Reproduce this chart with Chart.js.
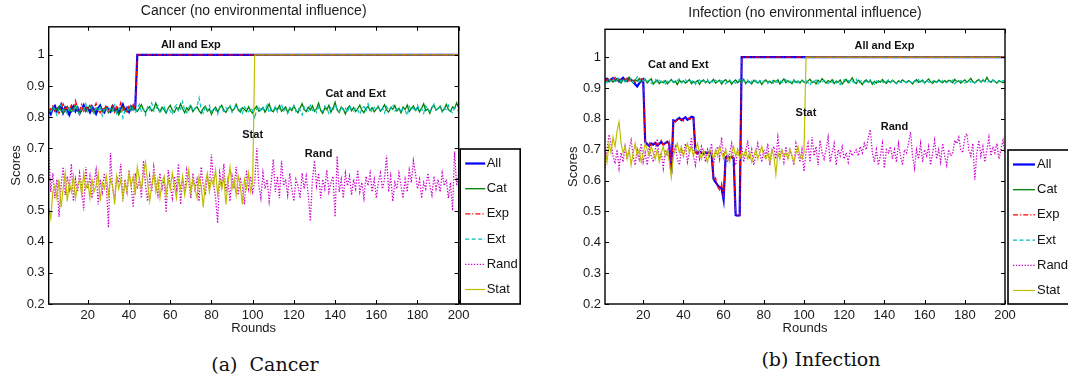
<!DOCTYPE html>
<html>
<head>
<meta charset="utf-8">
<script src="https://cdn.jsdelivr.net/npm/chart.js@4.4.1/dist/chart.umd.min.js"></script>
<style>
  body { margin: 0; background: #fff; width: 1068px; height: 379px; overflow: hidden; position: relative; }
  canvas { position: absolute; top: 0; }
  #cancer { left: 0; }
  #infection { left: 530px; }
  .cap { position: absolute; font-family: "DejaVu Serif", "Liberation Serif", serif; font-size: 19px; line-height: 22px; color: #111; transform: translateX(-50%); white-space: nowrap; }
</style>
</head>
<body>
<canvas id="cancer" width="530" height="340"></canvas>
<canvas id="infection" width="538" height="340"></canvas>
<div class="cap" style="left:265px;top:353px">(a)&nbsp; Cancer</div>
<div class="cap" style="left:821px;top:348px">(b) Infection</div>
<script>
// ---- data ----
const xTicks = [20, 40, 60, 80, 100, 120, 140, 160, 180, 200];
const yTicks = [0.2, 0.3, 0.4, 0.5, 0.6, 0.7, 0.8, 0.9, 1];
const lastRound = 200;
const topScore = 1;

// Cancer
const cancerAll = [0.822,0.810,0.829,0.836,0.818,0.826,0.840,0.814,0.831,0.823,
  0.808,0.827,0.835,0.819,0.830,0.812,0.825,0.838,0.821,0.829,
  0.816,0.834,0.824,0.811,0.828,0.837,0.820,0.815,0.832,0.826,
  0.818,0.835,0.823,0.829,0.813,0.827,0.840,0.821,0.830,0.817,
  0.834,0.825,0.829];
const cancerAllJump = 44;
const cancerExp = [0.815,0.828,0.836,0.820,0.831,0.812,0.826,0.842,0.819,0.834,
  0.825,0.838,0.817,0.852,0.829,0.821,0.840,0.815,0.833,0.826,
  0.837,0.818,0.829,0.844,0.822,0.814,0.831,0.826,0.839,0.820,
  0.828,0.841,0.816,0.833,0.825,0.846,0.822,0.830,0.818,0.835,
  0.827,0.840,0.823];
const cancerExpJump = 44;
const cancerCat = [0.815,0.822,0.830,0.818,0.826,0.834,0.821,0.812,0.828,0.835,
  0.824,0.816,0.829,0.838,0.820,0.811,0.826,0.832,0.819,0.827,
  0.836,0.823,0.815,0.828,0.821,0.833,0.818,0.825,0.831,0.814,
  0.822,0.829,0.817,0.826,0.808,0.820,0.833,0.824,0.816,0.830,
  0.822,0.836,0.825,0.818,0.829,0.840,0.823,0.815,0.827,0.834,
  0.820,0.826,0.845,0.828,0.817,0.832,0.824,0.813,0.829,0.838,
  0.822,0.816,0.831,0.825,0.842,0.827,0.814,0.830,0.822,0.836,
  0.818,0.827,0.833,0.821,0.812,0.828,0.835,0.819,0.826,0.809,
  0.824,0.832,0.817,0.829,0.838,0.822,0.815,0.828,0.834,0.820,
  0.826,0.841,0.823,0.816,0.830,0.825,0.818,0.833,0.820,0.812,
  0.827,0.835,0.819,0.824,0.831,0.816,0.829,0.842,0.822,0.817,
  0.830,0.824,0.837,0.819,0.826,0.833,0.815,0.828,0.821,0.836,
  0.822,0.814,0.829,0.843,0.825,0.818,0.832,0.823,0.836,0.819,
  0.827,0.845,0.821,0.812,0.830,0.824,0.838,0.816,0.829,0.848,
  0.823,0.815,0.832,0.826,0.810,0.828,0.836,0.820,0.831,0.818,
  0.827,0.838,0.822,0.814,0.829,0.835,0.821,0.830,0.817,0.826,
  0.833,0.819,0.828,0.840,0.823,0.816,0.831,0.825,0.837,0.820,
  0.828,0.814,0.832,0.824,0.839,0.818,0.827,0.836,0.822,0.830,
  0.817,0.829,0.843,0.821,0.826,0.812,0.831,0.838,0.823,0.828,
  0.835,0.819,0.826,0.841,0.824,0.818,0.833,0.827,0.846,0.829];
const cancerExt = [0.828,0.812,0.835,0.824,0.806,0.831,0.840,0.819,0.826,0.811,
  0.833,0.822,0.815,0.838,0.827,0.809,0.830,0.821,0.843,0.817,
  0.826,0.834,0.812,0.829,0.820,0.837,0.804,0.823,0.832,0.815,
  0.828,0.819,0.839,0.811,0.826,0.833,0.798,0.822,0.830,0.818,
  0.836,0.824,0.813,0.829,0.841,0.817,0.827,0.806,0.832,0.823,
  0.845,0.819,0.828,0.837,0.812,0.826,0.834,0.815,0.829,0.821,
  0.808,0.831,0.839,0.817,0.826,0.850,0.822,0.814,0.830,0.841,
  0.819,0.827,0.835,0.862,0.824,0.813,0.832,0.820,0.838,0.816,
  0.829,0.823,0.809,0.834,0.826,0.818,0.831,0.822,0.837,0.815,
  0.828,0.840,0.819,0.826,0.812,0.833,0.824,0.817,0.830,0.821,
  0.795,0.827,0.836,0.818,0.829,0.823,0.839,0.814,0.827,0.821,
  0.834,0.816,0.828,0.842,0.820,0.826,0.811,0.831,0.824,0.837,
  0.818,0.829,0.823,0.807,0.833,0.826,0.819,0.838,0.821,0.829,
  0.815,0.832,0.824,0.818,0.836,0.827,0.812,0.830,0.822,0.840,
  0.826,0.817,0.833,0.823,0.829,0.814,0.837,0.825,0.819,0.831,
  0.822,0.809,0.828,0.834,0.820,0.843,0.826,0.816,0.831,0.824,
  0.838,0.818,0.829,0.813,0.834,0.822,0.827,0.841,0.819,0.826,
  0.832,0.815,0.828,0.821,0.806,0.835,0.824,0.830,0.817,0.839,
  0.823,0.828,0.812,0.836,0.825,0.819,0.831,0.842,0.820,0.827,
  0.833,0.816,0.829,0.824,0.838,0.821,0.814,0.830,0.826,0.818];
const cancerRand = [0.690,0.560,0.620,0.540,0.600,0.480,0.580,0.640,0.550,0.610,
  0.570,0.650,0.530,0.600,0.560,0.620,0.580,0.500,0.640,0.570,
  0.610,0.540,0.590,0.630,0.520,0.600,0.560,0.620,0.580,0.445,
  0.685,0.570,0.540,0.610,0.590,0.650,0.530,0.600,0.560,0.630,
  0.580,0.510,0.620,0.570,0.600,0.540,0.660,0.580,0.530,0.610,
  0.560,0.640,0.590,0.550,0.620,0.570,0.600,0.494,0.630,0.580,
  0.540,0.610,0.570,0.650,0.520,0.600,0.560,0.630,0.590,0.540,
  0.620,0.570,0.600,0.530,0.640,0.580,0.550,0.610,0.570,0.680,
  0.590,0.540,0.460,0.620,0.580,0.650,0.560,0.600,0.530,0.610,
  0.570,0.640,0.550,0.600,0.580,0.520,0.630,0.570,0.610,0.560,
  0.590,0.700,0.580,0.540,0.620,0.570,0.600,0.530,0.590,0.665,
  0.560,0.610,0.540,0.660,0.580,0.600,0.550,0.620,0.570,0.530,
  0.600,0.580,0.540,0.620,0.570,0.610,0.550,0.466,0.600,0.660,
  0.580,0.620,0.540,0.600,0.570,0.630,0.560,0.590,0.610,0.480,
  0.675,0.560,0.600,0.540,0.620,0.580,0.610,0.550,0.600,0.570,
  0.630,0.560,0.590,0.540,0.610,0.580,0.620,0.560,0.600,0.540,
  0.590,0.620,0.570,0.600,0.677,0.560,0.610,0.530,0.590,0.570,
  0.620,0.580,0.540,0.600,0.560,0.630,0.590,0.660,0.620,0.570,
  0.600,0.540,0.590,0.570,0.620,0.580,0.550,0.610,0.570,0.600,
  0.560,0.620,0.580,0.600,0.540,0.590,0.500,0.690,0.580,0.620];
const cancerStat = [0.510,0.475,0.560,0.580,0.540,0.600,0.510,0.570,0.620,0.530,
  0.590,0.560,0.610,0.540,0.580,0.600,0.550,0.620,0.570,0.590,
  0.540,0.600,0.560,0.580,0.620,0.530,0.590,0.570,0.610,0.550,
  0.600,0.580,0.520,0.610,0.570,0.600,0.540,0.590,0.560,0.620,
  0.580,0.610,0.550,0.640,0.600,0.570,0.620,0.655,0.590,0.530,
  0.580,0.620,0.560,0.600,0.540,0.590,0.610,0.550,0.600,0.570,
  0.620,0.580,0.540,0.600,0.570,0.610,0.550,0.590,0.630,0.560,
  0.600,0.570,0.540,0.610,0.580,0.510,0.590,0.620,0.560,0.600,
  0.580,0.630,0.550,0.600,0.570,0.610,0.520,0.590,0.640,0.570,
  0.600,0.550,0.610,0.580,0.520,0.600,0.570,0.620,0.560,0.590];
const cancerStatJump = 101;

// Infection
const infectionAll = [0.925,0.930,0.922,0.928,0.932,0.924,0.929,0.921,0.927,0.933,
  0.926,0.923,0.930,0.925,0.920,0.912,0.905,0.915,0.924,0.928,
  0.725,0.718,0.712,0.720,0.716,0.722,0.714,0.719,0.725,0.717,
  0.721,0.726,0.718,0.622,0.795,0.792,0.798,0.803,0.796,0.800,
  0.805,0.797,0.801,0.807,0.805,0.692,0.688,0.694,0.690,0.686,
  0.691,0.689,0.693,0.688,0.605,0.595,0.585,0.578,0.575,0.538,
  0.675,0.679,0.673,0.677,0.672,0.488,0.486,0.487];
const infectionAllJump = 69;
const infectionExp = [0.920,0.928,0.931,0.923,0.926,0.934,0.921,0.929,0.924,0.930,
  0.927,0.932,0.919,0.928,0.925,0.918,0.922,0.926,0.930,0.924,
  0.728,0.715,0.722,0.713,0.719,0.724,0.716,0.721,0.730,0.714,
  0.720,0.727,0.716,0.625,0.792,0.790,0.801,0.795,0.799,0.793,
  0.802,0.798,0.804,0.796,0.803,0.695,0.686,0.692,0.688,0.694,
  0.689,0.691,0.687,0.690,0.600,0.608,0.580,0.570,0.590,0.545,
  0.670,0.676,0.671,0.678,0.674,0.490,0.488,0.489];
const infectionExpJump = 69;
const infectionCat = [0.918,0.924,0.921,0.927,0.919,0.925,0.930,0.922,0.916,0.926,
  0.929,0.921,0.935,0.924,0.918,0.927,0.922,0.931,0.919,0.925,
  0.928,0.916,0.923,0.930,0.912,0.920,0.926,0.914,0.921,0.917,
  0.924,0.913,0.920,0.927,0.918,0.922,0.911,0.925,0.919,0.923,
  0.916,0.921,0.927,0.914,0.920,0.918,0.924,0.912,0.922,0.926,
  0.917,0.923,0.915,0.921,0.928,0.916,0.920,0.925,0.913,0.922,
  0.927,0.918,0.924,0.912,0.921,0.926,0.917,0.923,0.919,0.928,
  0.914,0.922,0.919,0.913,0.925,0.920,0.916,0.923,0.911,0.921,
  0.926,0.918,0.922,0.915,0.924,0.919,0.927,0.913,0.921,0.929,
  0.917,0.923,0.920,0.914,0.926,0.918,0.922,0.916,0.925,0.920,
  0.915,0.923,0.928,0.917,0.921,0.913,0.925,0.919,0.930,0.922,
  0.916,0.924,0.919,0.927,0.914,0.922,0.918,0.926,0.912,0.921,
  0.928,0.917,0.923,0.933,0.919,0.914,0.925,0.920,0.911,0.922,
  0.926,0.918,0.924,0.912,0.921,0.916,0.923,0.919,0.927,0.920,
  0.915,0.922,0.918,0.925,0.920,0.914,0.923,0.919,0.926,0.921,
  0.917,0.924,0.919,0.913,0.922,0.927,0.918,0.921,0.925,0.916,
  0.923,0.929,0.920,0.915,0.922,0.918,0.926,0.921,0.917,0.924,
  0.919,0.925,0.922,0.917,0.928,0.920,0.923,0.916,0.921,0.926,
  0.918,0.924,0.931,0.920,0.916,0.923,0.927,0.919,0.925,0.921,
  0.934,0.922,0.918,0.926,0.921,0.916,0.924,0.920,0.917,0.922];
const infectionExt = [0.924,0.917,0.928,0.921,0.930,0.918,0.925,0.933,0.920,0.927,
  0.919,0.926,0.922,0.931,0.917,0.924,0.936,0.920,0.928,0.923,
  0.930,0.921,0.926,0.915,0.923,0.928,0.918,0.925,0.920,0.927,
  0.913,0.922,0.919,0.926,0.921,0.917,0.924,0.929,0.916,0.922,
  0.927,0.918,0.923,0.920,0.925,0.912,0.921,0.926,0.917,0.923,
  0.920,0.928,0.914,0.922,0.918,0.925,0.921,0.916,0.924,0.919,
  0.913,0.921,0.926,0.918,0.923,0.915,0.922,0.928,0.917,0.924,
  0.920,0.926,0.911,0.922,0.918,0.925,0.914,0.921,0.927,0.919,
  0.923,0.915,0.920,0.926,0.913,0.922,0.918,0.924,0.917,0.921,
  0.927,0.914,0.922,0.919,0.925,0.912,0.921,0.916,0.923,0.918,
  0.924,0.917,0.909,0.922,0.919,0.926,0.913,0.921,0.918,0.925,
  0.920,0.914,0.923,0.918,0.926,0.916,0.922,0.911,0.921,0.927,
  0.919,0.924,0.915,0.922,0.917,0.928,0.913,0.921,0.925,0.918,
  0.922,0.916,0.927,0.919,0.912,0.923,0.918,0.925,0.920,0.914,
  0.921,0.926,0.917,0.923,0.919,0.913,0.924,0.920,0.916,0.922,
  0.918,0.925,0.920,0.914,0.923,0.919,0.927,0.915,0.922,0.917,
  0.924,0.919,0.913,0.921,0.926,0.918,0.922,0.916,0.925,0.920,
  0.917,0.923,0.919,0.926,0.914,0.921,0.918,0.924,0.920,0.915,
  0.922,0.927,0.918,0.923,0.916,0.921,0.925,0.919,0.928,0.920,
  0.916,0.923,0.919,0.925,0.920,0.914,0.922,0.918,0.924,0.920];
const infectionRand = [0.640,0.700,0.749,0.720,0.680,0.655,0.700,0.640,0.690,0.660,
  0.710,0.670,0.700,0.730,0.680,0.650,0.700,0.670,0.720,0.660,
  0.690,0.650,0.710,0.680,0.660,0.700,0.735,0.670,0.690,0.640,
  0.700,0.680,0.720,0.660,0.690,0.710,0.670,0.650,0.700,0.680,
  0.720,0.660,0.690,0.740,0.680,0.650,0.700,0.670,0.710,0.690,
  0.660,0.700,0.680,0.720,0.650,0.690,0.710,0.670,0.740,0.680,
  0.700,0.660,0.690,0.720,0.670,0.650,0.700,0.680,0.710,0.660,
  0.690,0.730,0.670,0.700,0.650,0.680,0.720,0.690,0.660,0.700,
  0.680,0.720,0.650,0.690,0.710,0.670,0.740,0.680,0.700,0.660,
  0.710,0.670,0.700,0.680,0.650,0.720,0.690,0.660,0.700,0.630,
  0.690,0.720,0.660,0.740,0.680,0.710,0.650,0.730,0.690,0.670,
  0.700,0.740,0.660,0.690,0.720,0.650,0.700,0.680,0.710,0.670,
  0.690,0.660,0.700,0.680,0.690,0.700,0.680,0.710,0.690,0.720,
  0.700,0.740,0.765,0.690,0.660,0.700,0.650,0.680,0.720,0.640,
  0.700,0.690,0.710,0.670,0.700,0.660,0.720,0.680,0.650,0.700,
  0.690,0.720,0.757,0.680,0.640,0.700,0.670,0.720,0.660,0.700,
  0.680,0.710,0.650,0.690,0.730,0.670,0.700,0.660,0.720,0.680,
  0.650,0.700,0.680,0.690,0.730,0.720,0.740,0.700,0.690,0.740,
  0.752,0.700,0.680,0.720,0.603,0.690,0.730,0.680,0.710,0.660,
  0.700,0.740,0.680,0.710,0.690,0.720,0.670,0.700,0.730,0.690];
const infectionStat = [0.700,0.660,0.720,0.690,0.740,0.710,0.760,0.790,0.720,0.690,
  0.710,0.670,0.700,0.650,0.690,0.720,0.680,0.700,0.660,0.690,
  0.720,0.700,0.680,0.710,0.690,0.670,0.700,0.660,0.690,0.710,
  0.680,0.700,0.660,0.610,0.680,0.700,0.720,0.690,0.710,0.680,
  0.700,0.720,0.690,0.710,0.680,0.700,0.720,0.690,0.670,0.700,
  0.680,0.660,0.700,0.690,0.670,0.700,0.680,0.710,0.690,0.670,
  0.700,0.680,0.660,0.690,0.710,0.680,0.700,0.670,0.690,0.680,
  0.700,0.670,0.690,0.660,0.680,0.700,0.670,0.690,0.710,0.680,
  0.670,0.690,0.660,0.700,0.680,0.620,0.690,0.670,0.700,0.680,
  0.690,0.670,0.700,0.680,0.660,0.690,0.710,0.680,0.670,0.690];
const infectionStatJump = 101;

// text labels inside the plots: [text, round, score]
const cancerNotes = [['All and Exp', 70, 1.033], ['Cat and Ext', 150, 0.875], ['Stat', 100, 0.742], ['Rand', 132, 0.683]];
const infectionNotes = [['Cat and Ext', 37.5, 0.975], ['All and Exp', 140, 1.037], ['Stat', 101, 0.819], ['Rand', 145, 0.775]];

// ---- helpers ----
const FONT = '"Liberation Sans", Arial, Helvetica, sans-serif';
Chart.defaults.font.family = FONT;
Chart.defaults.color = '#1a1a1a';

function pts(values, jump) {
  const out = values.map((y, i) => ({ x: i + 1, y }));
  if (jump) out.push({ x: jump, y: topScore }, { x: lastRound, y: topScore });
  return out;
}

const styles = {
  All:  { borderColor: '#0000ff', borderWidth: 2.2, borderDash: [] },
  Cat:  { borderColor: '#008000', borderWidth: 1.3, borderDash: [] },
  Exp:  { borderColor: '#ff0000', borderWidth: 1.3, borderDash: [5, 2, 1.2, 2] },
  Ext:  { borderColor: '#00bfbf', borderWidth: 1.2, borderDash: [4, 2.5] },
  Rand: { borderColor: '#cc00cc', borderWidth: 1.3, borderDash: [1.3, 1.6] },
  Stat: { borderColor: '#bfbf00', borderWidth: 1.2, borderDash: [] }
};

function datasets(series) {
  return series.map(([label, data], i) => Object.assign({
    label, data, pointRadius: 0, tension: 0, fill: false,
    order: series.length - i
  }, styles[label]));
}

const frame = {
  id: 'frame',
  afterDatasetsDraw(chart) {
    const { ctx, chartArea: a, scales: { x, y } } = chart;
    ctx.save();
    ctx.strokeStyle = '#000';
    ctx.lineWidth = 1;
    ctx.beginPath();
    x.ticks.forEach(t => {
      const px = Math.round(x.getPixelForValue(t.value)) + 0.5;
      ctx.moveTo(px, a.bottom); ctx.lineTo(px, a.bottom - 4);
      ctx.moveTo(px, a.top); ctx.lineTo(px, a.top + 4);
    });
    y.ticks.forEach(t => {
      const py = Math.round(y.getPixelForValue(t.value)) + 0.5;
      ctx.moveTo(a.left, py); ctx.lineTo(a.left + 4, py);
      ctx.moveTo(a.right, py); ctx.lineTo(a.right - 4, py);
    });
    ctx.stroke();
    ctx.lineWidth = 1.4;
    ctx.strokeRect(a.left, a.top, a.right - a.left, a.bottom - a.top);
    ctx.restore();
  }
};

// plot title, centred over the plot area
const plotTitle = {
  id: 'plotTitle',
  afterDraw(chart, args, opts) {
    const { ctx, chartArea: a } = chart;
    ctx.save();
    ctx.font = '14px ' + FONT;
    ctx.fillStyle = '#1a1a1a';
    ctx.textAlign = 'center';
    ctx.textBaseline = 'middle';
    ctx.fillText(opts.text, (a.left + a.right) / 2, opts.y);
    ctx.restore();
  }
};

const notes = {
  id: 'notes',
  afterDatasetsDraw(chart, args, opts) {
    const { ctx, scales: { x, y } } = chart;
    ctx.save();
    ctx.font = 'bold 11px ' + FONT;
    ctx.fillStyle = '#111';
    ctx.textAlign = 'center';
    ctx.textBaseline = 'middle';
    opts.items.forEach(([text, rx, ry]) => ctx.fillText(text, x.getPixelForValue(rx), y.getPixelForValue(ry)));
    ctx.restore();
  }
};

const legendBox = {
  id: 'legendBox',
  afterDatasetsDraw(chart, args, opts) {
    const { ctx, chartArea: a } = chart;
    const bx = a.right + opts.gap, by = opts.top, bw = opts.width, bh = a.bottom - opts.top;
    ctx.save();
    ctx.fillStyle = '#fff';
    ctx.fillRect(bx, by, bw, bh);
    ctx.strokeStyle = '#000';
    ctx.lineWidth = 1.6;
    ctx.strokeRect(bx, by, bw, bh);
    ctx.font = '13px ' + FONT;
    ctx.textBaseline = 'middle';
    chart.data.datasets.forEach((ds, i) => {
      const ly = by + 14.5 + i * 25.2;
      ctx.beginPath();
      ctx.setLineDash(ds.borderDash);
      ctx.lineWidth = ds.borderWidth;
      ctx.strokeStyle = ds.borderColor;
      ctx.moveTo(bx + opts.lineFrom, ly);
      ctx.lineTo(bx + opts.lineTo, ly);
      ctx.stroke();
      ctx.setLineDash([]);
      ctx.fillStyle = '#111';
      ctx.fillText(ds.label, bx + opts.textAt, ly);
    });
    ctx.restore();
  }
};

function makeChart(id, cfg) {
  return new Chart(document.getElementById(id), {
    type: 'line',
    data: { datasets: datasets(cfg.series) },
    plugins: [frame, notes, legendBox, plotTitle],
    options: {
      responsive: false,
      animation: false,
      layout: { padding: { left: cfg.padLeft, right: cfg.padRight, top: cfg.padTop, bottom: 0 } },
      scales: {
        x: {
          type: 'linear', min: 1, max: lastRound,
          grid: { display: false, drawTicks: false },
          border: { display: false },
          afterBuildTicks: s => { s.ticks = xTicks.map(v => ({ value: v })); },
          afterFit: s => { s.height = 36; },
          ticks: { padding: 4, font: { size: 13 }, color: '#1a1a1a' },
          title: { display: true, text: 'Rounds', font: { size: 13 }, color: '#1a1a1a', padding: { top: 0, bottom: 4.2 } }
        },
        y: {
          type: 'linear', min: 0.2, max: 1.09,
          grid: { display: false, drawTicks: false },
          border: { display: false },
          afterBuildTicks: s => { s.ticks = yTicks.map(v => ({ value: v })); },
          afterFit: s => { s.width = 48.7; },
          ticks: { padding: 4, font: { size: 13 }, color: '#1a1a1a', callback: v => (v === 1 ? '1' : v.toFixed(1)) },
          title: { display: true, text: 'Scores', font: { size: 13 }, color: '#1a1a1a', padding: { top: 9, bottom: 0 } }
        }
      },
      plugins: {
        legend: { display: false },
        tooltip: { enabled: false },
        title: { display: false },
        plotTitle: { text: cfg.title, y: cfg.titleY },
        notes: { items: cfg.notes },
        legendBox: cfg.legend
      }
    }
  });
}

makeChart('cancer', {
  title: 'Cancer (no environmental influence)',
  padLeft: 0, padRight: 530 - 458.7, padTop: 26.8, titleY: 11.5,
  notes: cancerNotes,
  legend: { gap: 1.5, top: 149, width: 60, lineFrom: 5, lineTo: 25, textAt: 26.5 },
  series: [
    ['All', pts(cancerAll, cancerAllJump)],
    ['Cat', pts(cancerCat)],
    ['Exp', pts(cancerExp, cancerExpJump)],
    ['Ext', pts(cancerExt)],
    ['Rand', pts(cancerRand)],
    ['Stat', pts(cancerStat, cancerStatJump)]
  ]
});

makeChart('infection', {
  title: 'Infection (no environmental influence)',
  padLeft: 75 - 48.7, padRight: 538 - 475, padTop: 29.3, titleY: 13.3,
  notes: infectionNotes,
  legend: { gap: 3, top: 150, width: 70, lineFrom: 5, lineTo: 27, textAt: 29 },
  series: [
    ['All', pts(infectionAll, infectionAllJump)],
    ['Cat', pts(infectionCat)],
    ['Exp', pts(infectionExp, infectionExpJump)],
    ['Ext', pts(infectionExt)],
    ['Rand', pts(infectionRand)],
    ['Stat', pts(infectionStat, infectionStatJump)]
  ]
});
</script>
</body>
</html>
